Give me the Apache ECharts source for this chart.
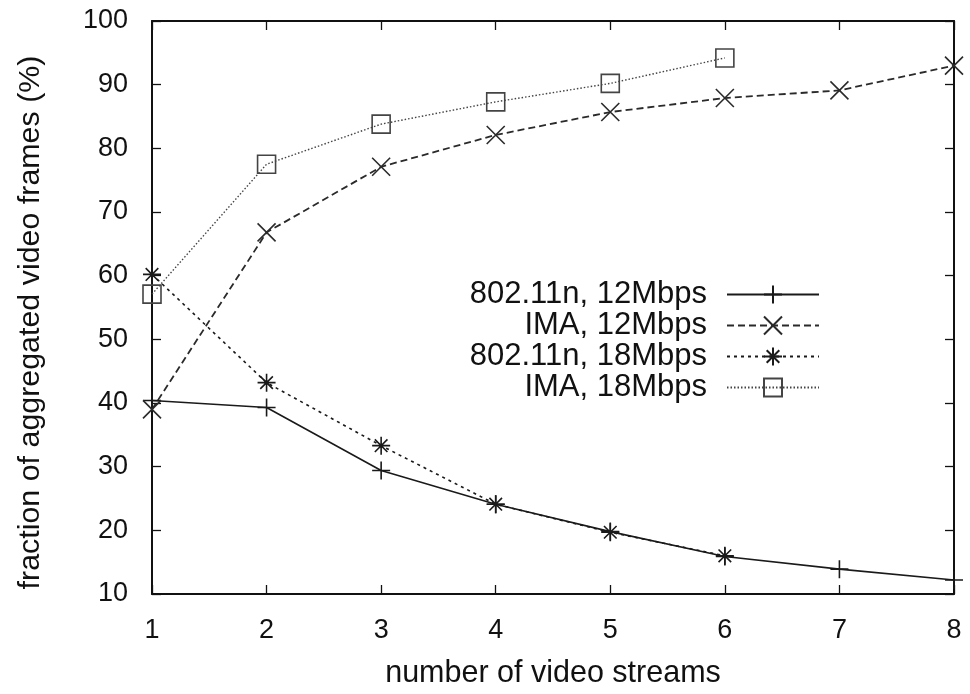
<!DOCTYPE html>
<html>
<head>
<meta charset="utf-8">
<script src="https://cdn.jsdelivr.net/npm/echarts@6/dist/echarts.min.js"></script>
<style>
  html, body { margin: 0; padding: 0; background: #fff; }
  #chart { width: 970px; height: 694px; }
</style>
</head>
<body>
<div id="chart"></div>
<script>
// Number of concurrent video streams
const streams = [1, 2, 3, 4, 5, 6, 7, 8];

// Fraction of aggregated video frames (%)
const n80211_12 = [40.4, 39.3, 29.4, 24.1, 19.8, 15.9, 13.9, 12.2];
const ima_12    = [39.0, 66.8, 77.1, 82.1, 85.7, 87.9, 89.1, 93.0];
const n80211_18 = [60.2, 43.2, 33.3, 24.1, 19.7, 16.0];
const ima_18    = [57.1, 77.5, 83.8, 87.3, 90.2, 94.2];

const seriesNames = ['802.11n, 12Mbps', 'IMA, 12Mbps', '802.11n, 18Mbps', 'IMA, 18Mbps'];

const FONT = '"Liberation Sans", Arial, Helvetica, sans-serif';

// Outline-only point markers
const SYM_PLUS  = 'path://M0,5L10,5M5,0L5,10';
const SYM_CROSS = 'path://M0,0L10,10M10,0L0,10';
const SYM_STAR  = 'path://M0,5L10,5M5,0L5,10M1.5,1.5L8.5,8.5M8.5,1.5L1.5,8.5';
const SYM_BOX   = 'path://M0,0L10,0L10,10L0,10Z';

function pairs(ys) {
  return ys.map((y, i) => [streams[i], y]);
}

function makeSeries(name, ys, symbol, color, dash, width) {
  return {
    name: name,
    type: 'line',
    data: pairs(ys),
    symbol: symbol,
    symbolSize: 18,
    showAllSymbol: true,
    lineStyle: { color: color, width: width, type: dash },
    itemStyle: { color: 'rgba(0,0,0,0)', borderColor: color, borderWidth: 1.6 },
    emphasis: { disabled: true },
    z: 3
  };
}

const tickStyle = { show: true, inside: true, length: 9, lineStyle: { color: '#111', width: 1.3 } };

const chart = echarts.init(document.getElementById('chart'), null, { renderer: 'canvas' });

chart.setOption({
  animation: false,
  backgroundColor: '#fff',
  grid: { left: 152, right: 16, top: 21, bottom: 93, containLabel: false },
  legend: {
    orient: 'vertical',
    align: 'right',
    right: 150,
    top: 279,
    padding: 0,
    itemWidth: 92,
    itemHeight: 22.5,
    itemGap: 0,
    selectedMode: false,
    data: seriesNames,
    textStyle: { fontFamily: FONT, fontSize: 31, lineHeight: 31, color: '#111', padding: [0, 15, 0, 0] }
  },
  xAxis: [
    {
      type: 'value', min: 1, max: 8, interval: 1, position: 'bottom',
      axisLine: { show: true, onZero: false, lineStyle: { color: '#111', width: 2 } },
      axisTick: tickStyle,
      splitLine: { show: false },
      axisLabel: { margin: 23, fontFamily: FONT, fontSize: 27, color: '#111' },
      name: 'number of video streams',
      nameLocation: 'middle',
      nameGap: 64,
      nameTextStyle: { fontFamily: FONT, fontSize: 30.5, color: '#111' }
    },
    {
      type: 'value', min: 1, max: 8, interval: 1, position: 'top',
      axisLine: { show: true, onZero: false, lineStyle: { color: '#111', width: 2 } },
      axisTick: tickStyle,
      splitLine: { show: false },
      axisLabel: { show: false }
    }
  ],
  yAxis: [
    {
      type: 'value', min: 10, max: 100, interval: 10, position: 'left',
      axisLine: { show: true, onZero: false, lineStyle: { color: '#111', width: 2 } },
      axisTick: tickStyle,
      splitLine: { show: false },
      axisLabel: { margin: 24, fontFamily: FONT, fontSize: 27, color: '#111' },
      name: 'fraction of aggregated video frames (%)',
      nameLocation: 'middle',
      nameGap: 106,
      nameTextStyle: { fontFamily: FONT, fontSize: 30.4, color: '#111', padding: [0, 30, 0, 0] }
    },
    {
      type: 'value', min: 10, max: 100, interval: 10, position: 'right',
      axisLine: { show: true, onZero: false, lineStyle: { color: '#111', width: 2 } },
      axisTick: tickStyle,
      splitLine: { show: false },
      axisLabel: { show: false }
    }
  ],
  series: [
    makeSeries(seriesNames[0], n80211_12, SYM_PLUS,  '#1a1a1a', 'solid', 1.6),
    makeSeries(seriesNames[1], ima_12,    SYM_CROSS, '#2a2a2a', [7, 4], 1.8),
    makeSeries(seriesNames[2], n80211_18, SYM_STAR,  '#1a1a1a', [3, 4], 1.6),
    makeSeries(seriesNames[3], ima_18,    SYM_BOX,   '#444444', [1.5, 2], 1.4)
  ]
});
</script>
</body>
</html>
